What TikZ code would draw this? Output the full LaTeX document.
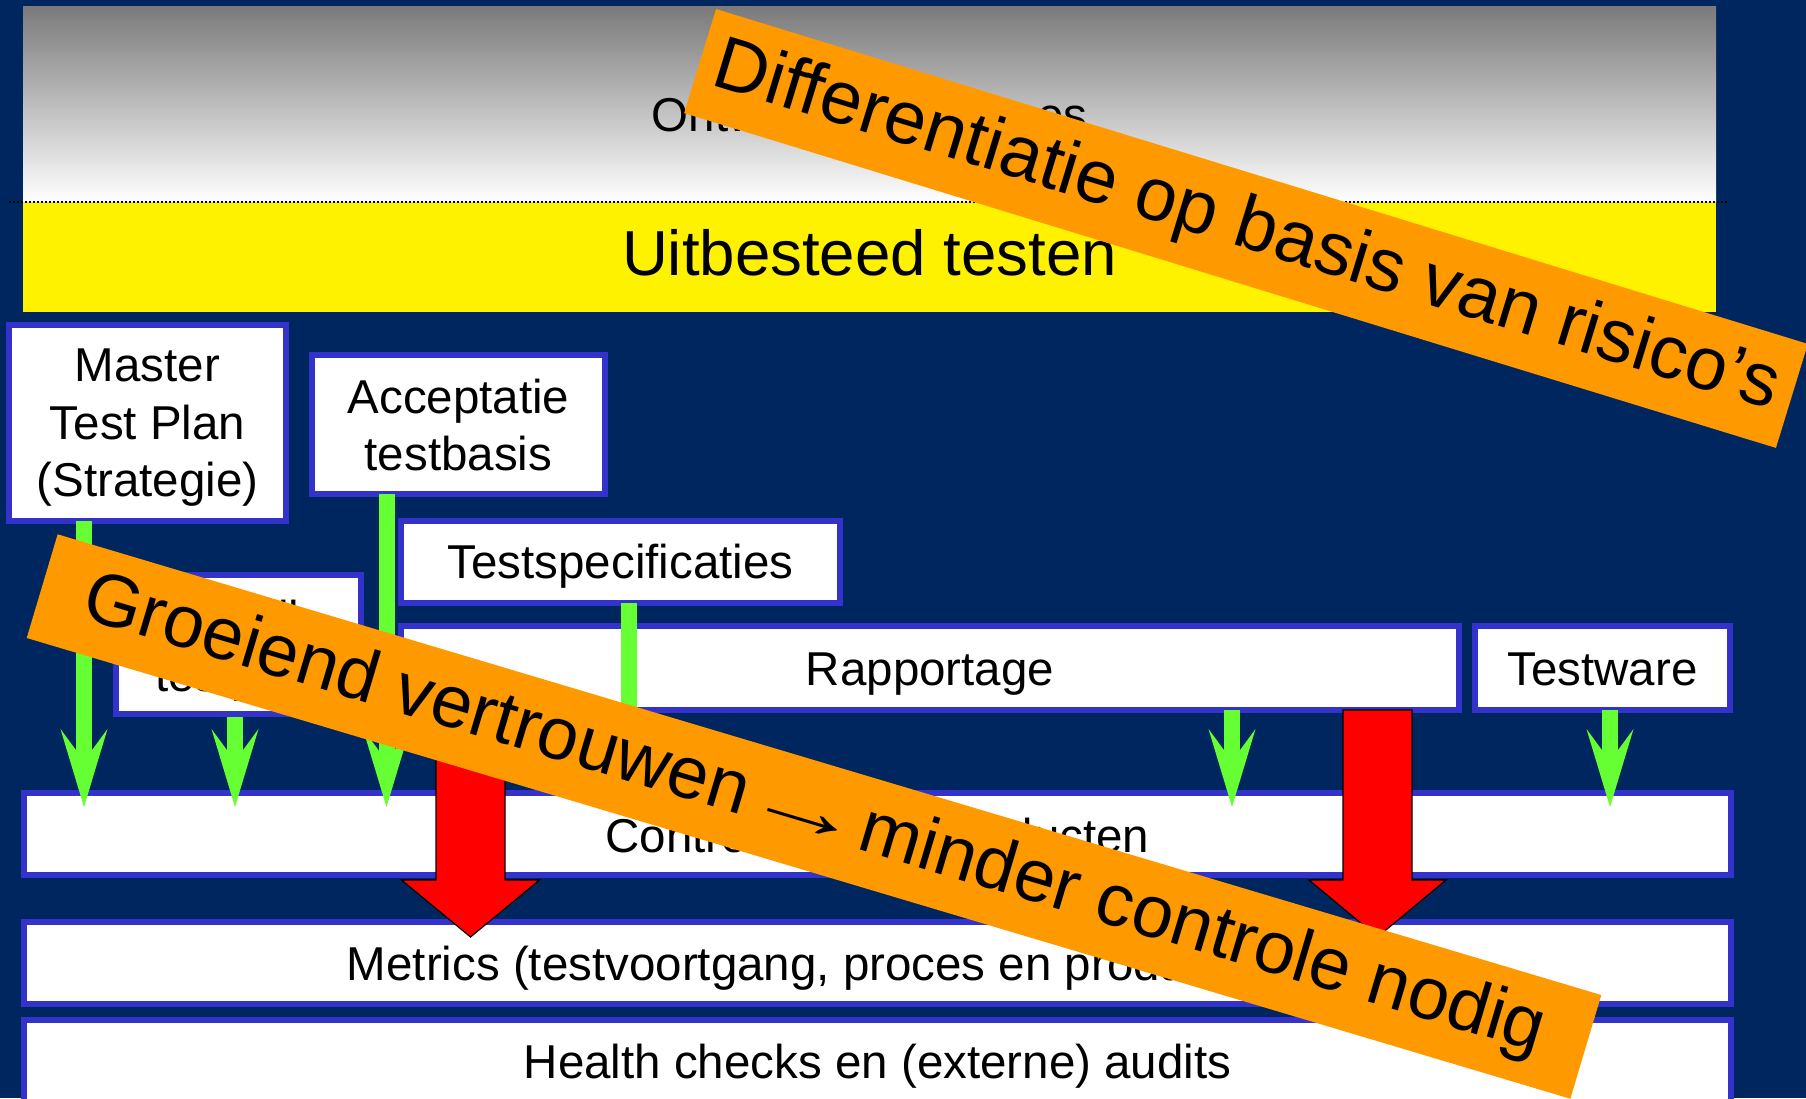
\documentclass[tikz,border=0pt]{standalone}
\usepackage{fontspec}
\usepackage{graphicx}
\setmainfont{Liberation Sans}
\usetikzlibrary{arrows.meta}
\definecolor{navy}{RGB}{0,38,96}
\definecolor{boxblue}{RGB}{51,51,204}
\definecolor{arrgreen}{RGB}{102,255,51}
\definecolor{bandorange}{RGB}{255,153,0}
\definecolor{topgray}{RGB}{122,122,122}
\begin{document}
\begin{tikzpicture}[x=1pt,y=-1pt,
  box/.style={draw=boxblue, line width=6pt, fill=white, inner sep=0pt, outer sep=0pt,
    font=\fontsize{47.5}{57.5}\selectfont, text depth=0pt},
  panel/.style={inner sep=0pt, outer sep=0pt, minimum width=1693pt, text depth=0pt},
  garrow/.style={draw=arrgreen, line width=16pt,
    -{Stealth[length=78pt, width=47pt, inset=32pt, line width=0pt, fill=arrgreen]}},
  redarrow/.style={fill=red, draw=black, line width=1.2pt, line join=miter},
  band/.style={fill=bandorange, inner sep=0pt},
]
\useasboundingbox (0,0) rectangle (1806,1098);
\clip (0,0) rectangle (1806,1098);
\fill[navy] (0,0) rectangle (1806,1098);

% top panels
\node[panel, minimum height=196pt, top color=topgray, bottom color=white,
  font=\fontsize{47.5}{57.5}\selectfont, text height=54pt] (ont) at (869.5,104) {Ontwikkelingsproces};
\node[panel, minimum height=110pt, fill=yellow,
  font=\fontsize{63.6}{70}\selectfont, text height=36pt] (uit) at (869.5,257) {Uitbesteed testen};
\draw[dash pattern=on 2pt off 2pt, line width=2pt] (9,202) -- (1728,202);

% boxes
\node[box, minimum width=277pt, minimum height=196pt, text height=34pt, text depth=116.6pt] (master) at (147.5,423)
  {\begin{tabular}[t]{@{}c@{}}Master\\Test Plan\\(Strategie)\end{tabular}};
\node[box, minimum width=293pt, minimum height=139pt, text height=34pt, text depth=56.4pt] (accept) at (458.5,424.5)
  {\begin{tabular}[t]{@{}c@{}}Acceptatie\\testbasis\end{tabular}};
\node[box, minimum width=245pt, minimum height=139pt, text height=34pt, text depth=54.6pt] (detail) at (238.5,644.5)
  {\begin{tabular}[t]{@{}c@{}}Detail\\testplan\end{tabular}};
\node[box, minimum width=439pt, minimum height=82pt, text height=32.6pt] (spec) at (620.5,562) {Testspecificaties};
\node[box, minimum width=1058pt, minimum height=84pt, text height=34pt] (rap) at (930,668) {Rapportage};
\node[box, minimum width=255pt, minimum height=84pt, text height=34pt] (tw) at (1602.5,668) {Testware};
\node[box, minimum width=1707pt, minimum height=82pt, text height=36.6pt] (ctl) at (877.5,834) {Controle tussenproducten};
\node[box, minimum width=1707pt, minimum height=82pt, text height=34pt] (met) at (877.5,963) {Metrics (testvoortgang, proces en productkwaliteit)};
\node[box, minimum width=1707pt, minimum height=97pt, text height=19.6pt] (hc) at (877.5,1068.5) {Health checks en (externe) audits};

% green arrows
\coordinate (t1) at (84,807);
\coordinate (t2) at (235,807);
\coordinate (t3) at (386.5,807);
\coordinate (t4) at (628.5,807);
\coordinate (t5) at (1232,807);
\coordinate (t6) at (1610,807);
\draw[garrow] ([xshift=-63.5pt]master.south) -- (t1);
\draw[garrow] ([xshift=-3.5pt,yshift=-3pt]detail.south) -- (t2);
\draw[garrow] ([xshift=-72pt]accept.south) -- (t3);
\draw[garrow] ([xshift=8pt]spec.south) -- (t4);
\draw[garrow] ([xshift=302pt]rap.south) -- (t5);
\draw[garrow] ([xshift=7.5pt]tw.south) -- (t6);

% red block arrows
\draw[redarrow] (436,710) -- (436,880) -- (401.5,880) -- (470.5,937) -- (539.5,880) -- (505,880) -- (505,710) -- cycle;
\draw[redarrow] (1343,710) -- (1343,880) -- (1309,880) -- (1377.5,937) -- (1446,880) -- (1412,880) -- (1412,710) -- cycle;

% orange bands
\node[band, rotate=-17.05, minimum width=1142pt, minimum height=108.8pt, font=\fontsize{75}{80}\selectfont] (band1) at (1246,228.5)
  {Differentiatie op basis van risico’s};
\node[band, rotate=-16.62, minimum width=1611pt, minimum height=108.2pt, font=\fontsize{74}{80}\selectfont] (band2) at (814,816.5)
  {Groeiend vertrouwen \hspace{-0.3em}\scalebox{1.65}[1]{→}\hspace{-0.3em} minder controle nodig};
\end{tikzpicture}
\end{document}
